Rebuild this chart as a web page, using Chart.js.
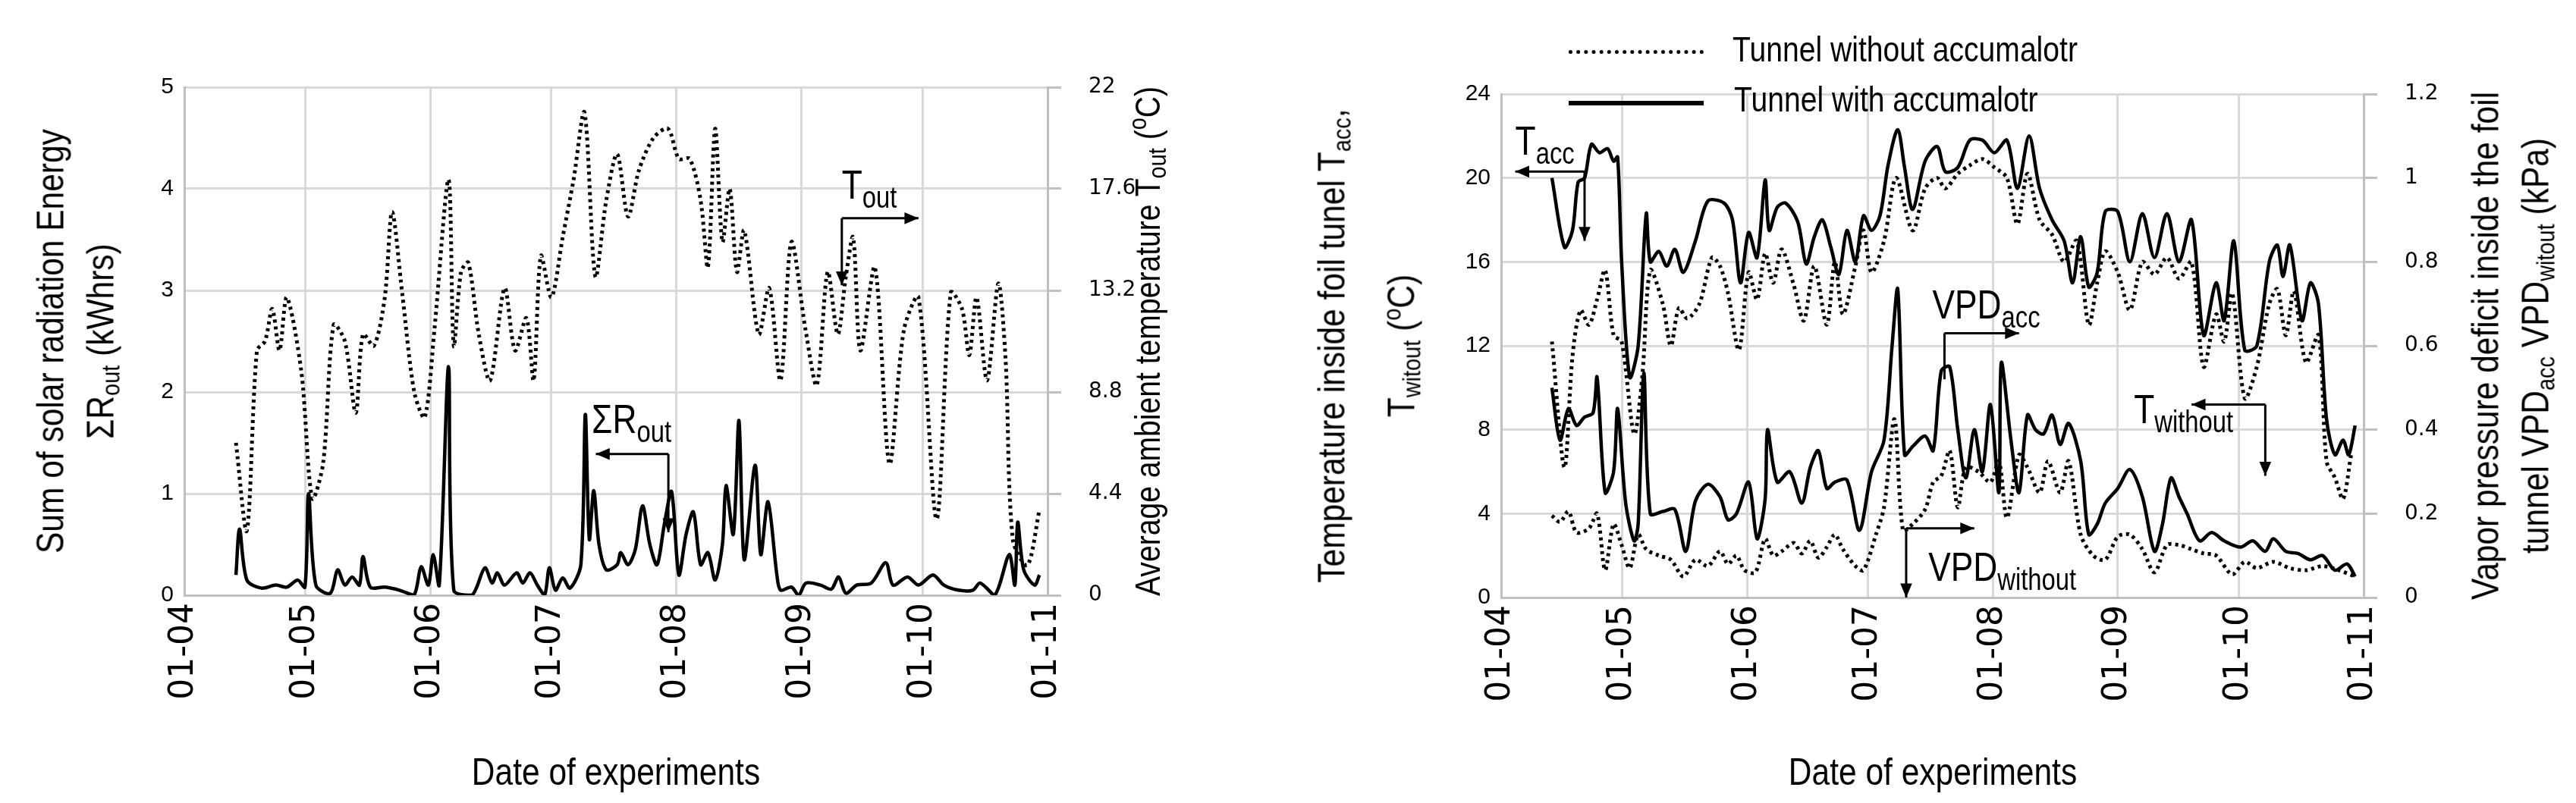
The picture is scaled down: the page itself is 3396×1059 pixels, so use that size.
<!DOCTYPE html>
<html>
<head>
<meta charset="utf-8">
<script src="https://cdn.jsdelivr.net/npm/chart.js@4.4.0/dist/chart.umd.min.js"></script>
<style>
  body { margin:0; background:#fff; width:3396px; height:1059px; overflow:hidden; position:relative; font-family:"Liberation Sans Narrow","Liberation Sans",sans-serif; }
  canvas { position:absolute; top:0; }
  .ttl { position:absolute; white-space:nowrap; font-size:50px; color:#000; text-align:center; line-height:66px; }
  .rot { transform:translate(-50%,-50%) rotate(-90deg) scaleX(0.85); }
  .hor { transform:translateX(-50%) scaleX(0.85); }
  sub { font-size:34px; vertical-align:-8px; }
  sup { font-size:34px; vertical-align:18px; }
  .leg { position:absolute; font-size:46px; transform-origin:left center; transform:scaleX(0.85); }
  .legline { position:absolute; width:178px; }
</style>
</head>
<body>
<canvas id="left" width="1560" height="1059" style="left:0;width:1560px;height:1059px"></canvas>
<canvas id="right" width="1796" height="1059" style="left:1600px;width:1796px;height:1059px"></canvas>

<div class="ttl rot" style="left:106px;top:450px">Sum of solar radiation Energy<br>&Sigma;R<sub>out</sub> (kWhrs)</div>
<div class="ttl rot" style="left:1512px;top:450px;font-size:46px">Average ambient temperature T<sub>out</sub> (<sup>o</sup>C)</div>
<div class="ttl hor" style="left:812px;top:985px">Date of experiments</div>

<div class="ttl rot" style="left:1808px;top:456px">Temperature inside foil tunel T<sub>acc</sub>,<br>T<sub>witout</sub> (<sup>o</sup>C)</div>
<div class="ttl rot" style="left:3316px;top:456px">Vapor pressure deficit inside the foil<br>tunnel VPD<sub>acc</sub> VPD<sub>witout</sub> (kPa)</div>
<div class="ttl hor" style="left:2548px;top:985px">Date of experiments</div>

<div class="legline" style="left:2068px;top:66px;border-top:5px dotted #000"></div>
<div class="leg" style="left:2284px;top:38px">Tunnel without accumalotr</div>
<div class="legline" style="left:2068px;top:133px;border-top:6px solid #000"></div>
<div class="leg" style="left:2286px;top:104px">Tunnel with accumalotr</div>

<script>
// days counted from 1 April
var monthDays = [0, 30, 61, 91, 122, 153, 183, 214];
var monthLabels = ["01-04", "01-05", "01-06", "01-07", "01-08", "01-09", "01-10", "01-11"];

// left chart: solar radiation (kWhrs) and outside temperature (°C)
var rDays = [12.8,13.7,15.5,19.1,22.7,25.4,28.1,29.9,30.8,32.6,
  36.2,38,39.8,41.6,43.4,44.3,46.1,49.7,53.3,56.9,
  58.7,60.5,61.7,63.2,65.5,66.8,71.3,74.5,76.3,77.6,
  79.4,82.4,83.9,85.7,87.5,89.3,90.5,92,93.8,95.6,
  98.3,99.4,100.4,101.5,102.8,104.6,107.3,108.2,110,111.8,
  113.6,115.4,117.2,119,120.8,122.6,124.4,126.2,128,129.8,
  131.6,133.4,134.3,136.1,137.5,138.8,141.5,142.9,144.7,146.9,
  147.8,150.5,152.3,154.1,157.7,160.4,162.2,164,166.7,170.3,
  173.9,175.7,179.3,182,185.6,188.3,191.9,195.5,197.3,200.9,
  204.5,205.9,206.6,208.1,210.8,212];
var rOut = [0.2,0.65,0.15,0.07,0.1,0.08,0.15,0.08,1.0,0.1,
  0.02,0.25,0.1,0.18,0.1,0.38,0.08,0.08,0.05,0.0,
  0.28,0.1,0.4,0.1,2.25,0.05,0.0,0.27,0.12,0.22,
  0.1,0.22,0.12,0.22,0.1,0.0,0.27,0.05,0.17,0.07,
  0.3,1.78,0.55,1.03,0.5,0.25,0.3,0.42,0.3,0.45,
  0.88,0.5,0.3,0.7,1.02,0.2,0.6,0.82,0.3,0.42,
  0.15,0.5,1.08,0.6,1.72,0.35,1.28,0.4,0.92,0.2,
  0.05,0.08,0.0,0.12,0.1,0.06,0.18,0.02,0.1,0.12,
  0.32,0.1,0.18,0.1,0.2,0.1,0.05,0.05,0.12,0.0,
  0.4,0.1,0.72,0.25,0.1,0.2];

var tDays = [12.8,15.5,18,20,21.8,23.6,25.4,29,31.7,34.4,
  37,39.8,42.5,44.3,47,49.7,51.5,54,57,59.6,
  62,65.5,66.8,68.6,70.4,73,75.8,79.4,82,84.8,
  86.6,88.4,91,93.8,96.5,99.2,101.9,104.6,107.3,110,
  112.7,116.3,119.9,122.6,125.3,128,129.8,131.6,133.4,135.2,
  137,138.8,142.4,145,147.8,150.5,154,156.8,159.5,162,
  164,165.8,167.6,171.2,174.8,178.4,182,186.5,190,192.8,
  194.6,196.4,199,201.8,203.6,205.4,209,212];
var tOut = [6.6,2.8,10.6,11,12.4,10.6,12.9,9.7,4.2,5.7,
  11.7,11,7.9,11.3,10.8,12.9,16.6,13.1,8.8,7.7,
  11.5,18,10.8,14,14.4,11.3,9.3,13.3,10.6,12,
  9.3,14.7,12.9,15.5,18,20.9,13.8,17.1,19.1,16.4,
  18.4,19.8,20.2,18.9,18.9,17.1,14.2,20.2,15.3,17.6,
  14,15.8,11.3,13.3,9.3,15.3,11.5,9.1,14,11.3,
  13.8,15.5,10.6,14.2,5.7,11.5,12.9,3.3,13.1,12.4,
  10.4,12.9,9.3,13.5,10.2,2.4,1.3,3.7];

// right chart: temperatures inside tunnels (°C)
var taDays = [12.6,15.7,17.7,19.1,20.7,22.4,24.4,26.4,27.9,28.9,
  29.9,31.9,34,36,37,39.1,41.1,43.1,45.2,48.2,
  51.3,55.3,57.4,59.4,61.4,63.5,65.5,66.5,68.5,70.6,
  73.6,75.7,77.7,79.7,81.8,83.8,85.8,87.9,89.9,91.9,
  94,96,98.4,100.1,102.1,105.2,108.2,110.2,113.3,116.3,
  119.4,122.4,125.5,128.1,131,133.6,136.7,139.7,141.8,143.8,
  145.8,147.9,149.9,153,156,159.1,162.1,165.2,168.2,171.3,
  174.3,177.4,179.4,181.8,184.5,187.5,190.6,192.6,194,195.7,
  198.7,200.8,202.8,204.8,206.9,208.9,210.3,211.9];
var tAcc = [20,16.7,17.5,19.8,20,21.6,21.2,21.4,20.8,21,
  16,10.5,12,18.3,16,16.5,15.8,16.6,15.5,17,
  18.9,18.8,18,15,17.4,16.2,19.9,17.5,18.6,18.8,
  17.9,15.9,17.2,18,16.7,15.4,17.5,16,18.2,17.5,
  18.2,20.6,22.3,20.5,18.5,20.8,21.5,20.3,20.5,21.8,
  21.8,21.2,21.8,19.5,22,19.5,18,17,15,17.2,
  14.8,15.5,18.4,18.4,16,18.3,16.2,18.3,16,18,
  12.5,15,13.2,17,11.8,12,16,16.8,15.3,16.8,
  13.2,15,14,8.5,6.8,7.5,6.8,8.2];

var twDays = [12.6,15.7,17.7,19.7,21.8,23.8,25.8,27.9,29.9,33,
  35,37,40.1,42.1,44.1,46.2,49.2,52.3,54.3,56.3,
  59,61.4,63.5,65.5,67.5,69.6,72.6,75.1,77.7,80.8,
  82.8,84.8,87.9,89.9,91.9,95,98,102.1,105.2,108.2,
  110.2,113.3,116.3,119.4,122.4,125.5,128.1,130.6,133.6,136.7,
  139.7,142.8,145.8,147.9,149.9,153,156,159.1,162.1,165.2,
  168.2,171.3,174.3,177.4,179.4,181.4,184.5,187.5,190.6,192.6,
  194.7,196.7,199.7,202.8,204.8,206.9,208.9,210.9];
var tWithout = [12.2,6.2,11.5,13.7,13,14.2,15.6,12.5,12.2,7.8,
  10.5,15.6,14,12,13.8,13.3,14,16.2,15.8,14.5,
  11.8,15.5,14.2,16.4,15,16.6,14.9,13.2,15.8,13,
  16,13.5,15.8,17.5,15.5,17,20,17.5,19.5,20,
  19.5,20.2,20.6,20.9,20.5,20,17.8,20.2,18,17.3,
  16,17,13,15,16.5,15.5,13.7,16,15.4,16.2,
  15.2,16,11,13.5,12.2,14.5,9.5,11,14,14.7,
  12.5,14.6,11.2,12.5,6.5,5.7,4.7,6.8];

// right chart: vapour pressure deficit (kPa)
var vaDays = [12.6,14.6,16.7,18.7,20.7,22.8,23.8,25.8,27.9,28.9,
  30.9,33,34,35.4,37,40.1,43.1,45.8,48.2,51.3,
  54.3,56.3,58.4,61.4,63.5,65.5,66.1,68.5,71.6,74.6,
  76.7,78.7,80.8,82.8,85.8,88.9,91.9,95,97,98.4,
  100.1,102.1,105.2,107.2,109.2,111.3,113.3,115.3,117.4,119.4,
  121.4,123.5,124.1,126.5,128.5,130.6,132.6,134.6,136.7,138.7,
  140.8,143.8,145.8,147.9,149.9,153,156,159.1,162.1,164.1,
  166.2,168.2,170.2,173.3,176.3,179.4,183.5,186.5,189.6,191.6,
  194.7,197.7,200.8,203.8,206.9,209.9,211.9];
var vpdAcc = [0.5,0.375,0.45,0.41,0.43,0.44,0.525,0.25,0.3,0.45,
  0.225,0.135,0.175,0.535,0.2,0.205,0.21,0.11,0.23,0.27,
  0.24,0.185,0.2,0.275,0.14,0.235,0.4,0.275,0.3,0.225,
  0.31,0.35,0.26,0.275,0.28,0.16,0.3,0.375,0.6,0.735,
  0.34,0.36,0.385,0.35,0.54,0.55,0.4,0.285,0.4,0.3,
  0.46,0.25,0.56,0.375,0.25,0.435,0.4,0.39,0.435,0.365,
  0.415,0.325,0.15,0.175,0.225,0.26,0.305,0.24,0.11,0.175,
  0.285,0.24,0.2,0.135,0.155,0.135,0.12,0.135,0.11,0.14,
  0.11,0.105,0.09,0.1,0.065,0.08,0.05];

var vwDays = [12.6,14.6,16.7,18.7,21.8,23.8,25.8,27.9,29.9,31.9,
  34,36,39.1,42.1,45.2,48.2,51.3,54.3,56.3,58.4,
  60.4,63.1,65.5,67.5,69.6,72.6,74.6,76.7,78.7,80.8,
  82.8,84.8,87.9,89.9,93,95,97.6,99.7,102.1,105.2,
  107.2,109.2,111.3,113.3,115.3,118.4,121.4,123.5,125.5,128.5,
  130.6,133.6,135.7,138.7,140.8,143.8,146.9,149.9,153,156,
  159.1,162.1,165.2,168.2,171.3,174.3,177.4,181.4,184.5,187.5,
  191.6,195.7,199.7,203.8,207.9,211.9];
var vpdWithout = [0.195,0.18,0.205,0.155,0.165,0.2,0.065,0.175,0.125,0.07,
  0.15,0.115,0.1,0.09,0.05,0.09,0.075,0.11,0.08,0.1,
  0.065,0.06,0.14,0.1,0.11,0.13,0.105,0.135,0.095,0.12,
  0.15,0.115,0.075,0.065,0.15,0.215,0.425,0.16,0.175,0.21,
  0.275,0.29,0.35,0.215,0.31,0.3,0.275,0.325,0.19,0.34,
  0.31,0.25,0.325,0.25,0.325,0.15,0.1,0.09,0.145,0.15,
  0.115,0.06,0.125,0.125,0.115,0.105,0.1,0.055,0.085,0.07,
  0.085,0.07,0.065,0.075,0.065,0.05];

function pts(xs, ys) { return xs.map(function(x, i){ return {x: x, y: ys[i]}; }); }

function line(data, axis, dotted) {
  return {
    data: data, yAxisID: axis, borderColor: '#000', backgroundColor: '#000',
    borderWidth: dotted ? 5 : 4.5, borderDash: dotted ? [4, 5] : [],
    pointRadius: 0, tension: 0.3, fill: false
  };
}

// arrows and labels with subscripts, placed in data coordinates
var notes = {
  id: 'notes',
  afterDatasetsDraw: function(chart, args, opts) {
    var ctx = chart.ctx, x = chart.scales.x, y = chart.scales[opts.axis];
    ctx.save();
    ctx.strokeStyle = '#000'; ctx.fillStyle = '#000'; ctx.lineWidth = 3;
    (opts.arrows || []).forEach(function(a) {
      var px = a.map(function(p){ return [x.getPixelForValue(p[0]), y.getPixelForValue(p[1])]; });
      ctx.beginPath(); ctx.moveTo(px[0][0], px[0][1]); ctx.lineTo(px[1][0], px[1][1]); ctx.stroke();
      var e = px[1], s = px[0], ang = Math.atan2(e[1]-s[1], e[0]-s[0]);
      ctx.beginPath();
      ctx.moveTo(e[0], e[1]);
      ctx.lineTo(e[0]-20*Math.cos(ang-0.4), e[1]-20*Math.sin(ang-0.4));
      ctx.lineTo(e[0]-20*Math.cos(ang+0.4), e[1]-20*Math.sin(ang+0.4));
      ctx.closePath(); ctx.fill();
    });
    (opts.lines || []).forEach(function(a) {
      ctx.beginPath();
      ctx.moveTo(x.getPixelForValue(a[0][0]), y.getPixelForValue(a[0][1]));
      ctx.lineTo(x.getPixelForValue(a[1][0]), y.getPixelForValue(a[1][1]));
      ctx.stroke();
    });
    ctx.textBaseline = 'alphabetic';
    (opts.labels || []).forEach(function(l) {
      var px = x.getPixelForValue(l.x), py = y.getPixelForValue(l.y);
      ctx.save();
      ctx.translate(px, py); ctx.scale(0.82, 1);
      ctx.font = '54px "Liberation Sans", sans-serif';
      ctx.fillText(l.main, 0, 0);
      var w = ctx.measureText(l.main).width;
      ctx.font = '40px "Liberation Sans", sans-serif';
      ctx.fillText(l.sub, w, 12);
      ctx.restore();
    });
    ctx.restore();
  }
};

function makeChart(id, datasets, y1, y2, widths, top, annot) {
  return new Chart(document.getElementById(id), {
    type: 'line',
    data: { datasets: datasets },
    plugins: [notes],
    options: {
      responsive: false, animation: false,
      layout: { padding: { top: top, right: 0, left: 0, bottom: 0 } },
      plugins: { legend: { display: false }, tooltip: { enabled: false }, notes: annot },
      scales: {
        x: {
          type: 'linear', min: 0, max: 214,
          afterBuildTicks: function(s){ s.ticks = monthDays.map(function(v){ return {value: v}; }); },
          afterFit: function(s){ s.height = widths[2]; },
          ticks: { autoSkip: false, maxRotation: 90, minRotation: 90, color: '#000', padding: 10,
                   font: { family: '"DejaVu Sans", sans-serif', size: 44 },
                   callback: function(v){ return monthLabels[monthDays.indexOf(v)]; } },
          grid: { color: '#d9d9d9', lineWidth: 3, drawTicks: false },
          border: { color: '#bfbfbf', width: 3 }
        },
        y: {
          position: 'left', min: y1[0], max: y1[1],
          afterFit: function(s){ s.width = widths[0]; },
          ticks: { stepSize: y1[2], color: '#000', padding: 14, font: { family: '"Liberation Sans", sans-serif', size: 30 } },
          grid: { color: '#d9d9d9', lineWidth: 3, drawTicks: false },
          border: { color: '#bfbfbf', width: 3 }
        },
        y2: {
          position: 'right', min: y2[0], max: y2[1],
          afterFit: function(s){ s.width = widths[1]; },
          ticks: { stepSize: y2[2], color: '#000', padding: 36, font: { family: '"DejaVu Sans", sans-serif', size: 28 },
                   callback: function(v){ return Math.round(v * 10) / 10; } },
          grid: { drawOnChartArea: false, color: '#bfbfbf', lineWidth: 3, tickLength: 18 },
          border: { color: '#bfbfbf', width: 3 }
        }
      }
    }
  });
}

makeChart('left',
  [line(pts(rDays, rOut), 'y', false), line(pts(tDays, tOut), 'y2', true)],
  [0, 5, 1], [0, 22, 4.4], [243, 179, 274], 115,
  { axis: 'y',
    arrows: [[[163, 3.71], [182, 3.71]], [[163, 3.71], [163, 3.05]], [[120, 1.39], [102, 1.39]], [[120, 1.39], [120, 0.62]]],
    labels: [{ x: 163, y: 3.9, main: 'T', sub: 'out' }, { x: 101, y: 1.6, main: 'ΣR', sub: 'out' }] });

makeChart('right',
  [line(pts(taDays, tAcc), 'y', false), line(pts(twDays, tWithout), 'y', true),
   line(pts(vaDays, vpdAcc), 'y2', false), line(pts(vwDays, vpdWithout), 'y2', true)],
  [0, 24, 4], [0, 1.2, 0.2], [379, 280, 271], 124,
  { axis: 'y',
    arrows: [[[20.7, 20.3], [3.5, 20.3]], [[20.7, 20.3], [20.7, 17]],
             [[110, 12.6], [128.5, 12.6]], [[100.5, 3.3], [117.4, 3.3]], [[100.5, 3.3], [100.5, 0]],
             [[189.6, 9.2], [171.3, 9.2]], [[189.6, 9.2], [189.6, 5.8]]],
    lines: [[[110, 10.4], [110, 12.6]]],
    labels: [{ x: 3.5, y: 21.1, main: 'T', sub: 'acc' }, { x: 107, y: 13.3, main: 'VPD', sub: 'acc' },
             { x: 106, y: 0.8, main: 'VPD', sub: 'without' }, { x: 157, y: 8.3, main: 'T', sub: 'without' }] });
</script>
</body>
</html>
